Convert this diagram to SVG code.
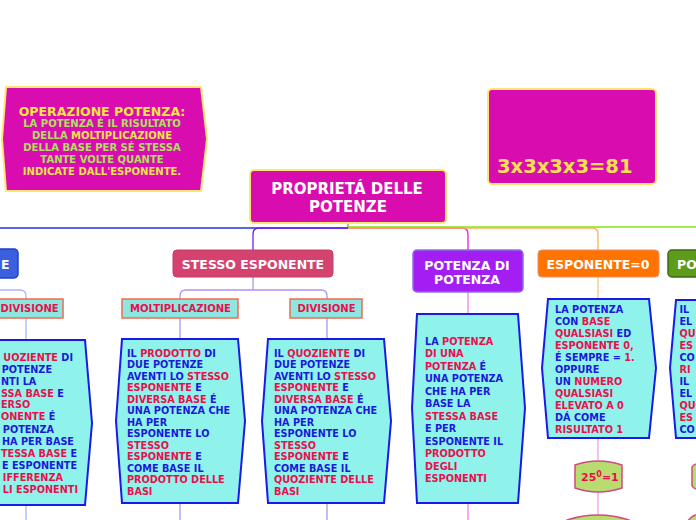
<svg xmlns="http://www.w3.org/2000/svg" width="696" height="520" viewBox="0 0 696 520">
<style>
text{font-family:"DejaVu Sans","Verdana",sans-serif;font-weight:bold}
.w{fill:#ffffff;font-size:12.5px;text-anchor:middle}
.t{font-size:9.7px}
.b{fill:#1a1ad8}
.r{fill:#e8104c}
.box{fill:#8ff3ec;stroke:#1a1ae8;stroke-width:2}
.sub{fill:#8ee6e0;stroke:#f06a50;stroke-width:1.5}
.subt{fill:#e8104c;font-size:10px;text-anchor:middle}
.mag{fill:#d90cb0;stroke:#ffe670;stroke-width:2}
.num{fill:#b8dc70;stroke:#d04a80;stroke-width:1.5}
.c{fill:none;stroke-width:1.3}
</style>
<g id="connectors">
<path class="c" d="M348,227 H696" stroke="#88e018"/>
<path class="c" d="M348,223 V227" stroke="#88a020"/>
<path class="c" d="M348,228 H0" stroke="#2030f0"/>
<path class="c" d="M348,228 H259 Q253,228 253,234 V250" stroke="#7020f0"/>
<path class="c" d="M348,228 H462 Q468,228 468,234 V250" stroke="#e020e0"/>
<path class="c" d="M348,228 H592 Q598,228 598,234 V250" stroke="#ffb050"/>
<path class="c" d="M253,277 V290 M186,290 H321 M186,290 Q180,290 180,296 V299 M321,290 Q327,290 327,296 V299" stroke="#b094f0"/>
<path class="c" d="M180,318 V339 M180,503 V520 M327,318 V339 M327,503 V520" stroke="#b094f0"/>
<path class="c" d="M0,290 H20 Q26,290 26,296 V299 M26,318 V340 M26,505 V520" stroke="#a8b8f8"/>
<path class="c" d="M468,292 V314 M468,503 V520" stroke="#f080f0"/>
<path class="c" d="M598,277 V299" stroke="#ffc080"/>
<path class="c" d="M598,438 V460 M598,492 V514" stroke="#f0a0f0"/>
</g>
<g id="node-operazione">
<path class="mag" d="M6,87 L201,87 L207,139 L201,191 L6,191 L2,139 Z"/>
<text x="102" y="115.5" font-size="12.5" fill="#f5e642" text-anchor="middle">OPERAZIONE POTENZA:</text>
<text x="102" y="127" font-size="10" fill="#b0e060" text-anchor="middle">LA POTENZA É IL RISULTATO</text>
<text x="102" y="138.5" font-size="10" fill="#b0e060" text-anchor="middle">DELLA <tspan fill="#ece44c">MOLTIPLICAZIONE</tspan></text>
<text x="102" y="150.5" font-size="10" fill="#b0e060" text-anchor="middle">DELLA BASE PER SÉ STESSA</text>
<text x="102" y="162.5" font-size="10" fill="#b0e060" text-anchor="middle">TANTE VOLTE QUANTE</text>
<text x="102" y="174.5" font-size="10" fill="#ece44c" text-anchor="middle">INDICATE DALL'ESPONENTE.</text>
</g>
<g id="node-esempio">
<rect class="mag" x="488" y="89" width="168" height="95" rx="4"/>
<text x="497" y="173" font-size="19.5" fill="#f5e050">3x3x3x3=81</text>
</g>
<g id="node-root">
<rect class="mag" x="250" y="170" width="196" height="53" rx="4"/>
<text x="347" y="193.5" font-size="15" fill="#ffffff" text-anchor="middle">PROPRIETÁ DELLE</text>
<text x="348" y="211.5" font-size="15" fill="#ffffff" text-anchor="middle">POTENZE</text>
</g>
<g id="node-stessa-base">
<rect x="-20" y="249" width="38" height="29" rx="4" fill="#3a60e0" stroke="#2040c8" stroke-width="1.5"/>
<text x="1" y="268.5" class="w" style="text-anchor:start">E</text>
</g>
<g id="node-stesso-esponente">
<rect x="173" y="250" width="160" height="27" rx="4" fill="#d4436f" stroke="#c83a66" stroke-width="1"/>
<text x="253" y="268.5" class="w">STESSO ESPONENTE</text>
</g>
<g id="node-potenza-di-potenza">
<rect x="413" y="250" width="110" height="42" rx="4" fill="#a31ef2" stroke="#8d6ee8" stroke-width="1.5"/>
<text x="467" y="269.5" class="w">POTENZA DI</text>
<text x="467" y="283.5" class="w">POTENZA</text>
</g>
<g id="node-esponente-0">
<rect x="538" y="250" width="121" height="27" rx="4" fill="#ff7300" stroke="#e89060" stroke-width="1"/>
<text x="598" y="268.5" class="w">ESPONENTE=0</text>
</g>
<g id="node-po">
<rect x="668" y="250" width="60" height="27" rx="4" fill="#5c9c1a" stroke="#3c6a10" stroke-width="1.5"/>
<text x="677" y="268.5" class="w" style="text-anchor:start">PO</text>
</g>
<g id="node-divisione-sx">
<rect class="sub" x="-15" y="299" width="78" height="19"/>
<text x="0.5" y="311.5" class="subt" style="text-anchor:start">DIVISIONE</text>
</g>
<g id="node-moltiplicazione">
<rect class="sub" x="122" y="299" width="116" height="19"/>
<text x="180.5" y="311.5" class="subt">MOLTIPLICAZIONE</text>
</g>
<g id="node-divisione">
<rect class="sub" x="290" y="299" width="72" height="19"/>
<text x="326.5" y="311.5" class="subt">DIVISIONE</text>
</g>
<g id="node-testo-sx">
<path class="box" d="M-10,340 L85,340 L92,423 L85,505 L-10,505 Z"/>
<g class="t" text-anchor="end">
<text x="73" y="360.5"><tspan class="r">UOZIENTE</tspan><tspan class="b"> DI</tspan></text>
<text x="52" y="372.5" class="b">POTENZE</text>
<text x="1" y="384.5" class="b" text-anchor="start">NTI LA</text>
<text x="1" y="396.5" text-anchor="start"><tspan class="r">SSA BASE</tspan><tspan class="b"> E</tspan></text>
<text x="1" y="408" class="r" text-anchor="start">ERSO</text>
<text x="1" y="420" class="b" text-anchor="start"><tspan class="r">ONENTE</tspan> É</text>
<text x="54" y="432.5" class="b">POTENZA</text>
<text x="74" y="444.5" class="b">HA PER BASE</text>
<text x="1" y="456.5" text-anchor="start"><tspan class="r">TESSA BASE</tspan><tspan class="b"> E</tspan></text>
<text x="77" y="468.5" class="b">E ESPONENTE</text>
<text x="63" y="480.5" class="r">IFFERENZA</text>
<text x="78" y="492.5" class="r">LI ESPONENTI</text>
</g>
</g>
<g id="node-testo-moltiplicazione">
<path class="box" d="M122,339 L238,339 L245,421 L238,503 L122,503 L116,421 Z"/>
<g class="t">
<text x="127" y="356.5" class="b">IL <tspan class="r">PRODOTTO</tspan> DI</text>
<text x="127" y="368" class="b">DUE POTENZE</text>
<text x="127" y="379.5" class="b">AVENTI LO <tspan class="r">STESSO</tspan></text>
<text x="127" y="391" class="r">ESPONENTE<tspan class="b"> E</tspan></text>
<text x="127" y="402.5" class="r">DIVERSA BASE<tspan class="b"> É</tspan></text>
<text x="127" y="414" class="b">UNA POTENZA CHE</text>
<text x="127" y="425.5" class="b">HA PER</text>
<text x="127" y="437" class="b">ESPONENTE LO</text>
<text x="127" y="448.5" class="r">STESSO</text>
<text x="127" y="460" class="r">ESPONENTE<tspan class="b"> E</tspan></text>
<text x="127" y="471.5" class="b">COME BASE IL</text>
<text x="127" y="483" class="r">PRODOTTO DELLE</text>
<text x="127" y="494.5" class="r">BASI</text>
</g>
</g>
<g id="node-testo-divisione">
<path class="box" d="M268,339 L384,339 L391,421 L384,503 L268,503 L262,421 Z"/>
<g class="t">
<text x="274" y="356.5" class="b">IL <tspan class="r">QUOZIENTE</tspan> DI</text>
<text x="274" y="368" class="b">DUE POTENZE</text>
<text x="274" y="379.5" class="b">AVENTI LO <tspan class="r">STESSO</tspan></text>
<text x="274" y="391" class="r">ESPONENTE<tspan class="b"> E</tspan></text>
<text x="274" y="402.5" class="r">DIVERSA BASE<tspan class="b"> É</tspan></text>
<text x="274" y="414" class="b">UNA POTENZA CHE</text>
<text x="274" y="425.5" class="b">HA PER</text>
<text x="274" y="437" class="b">ESPONENTE LO</text>
<text x="274" y="448.5" class="r">STESSO</text>
<text x="274" y="460" class="r">ESPONENTE<tspan class="b"> E</tspan></text>
<text x="274" y="471.5" class="b">COME BASE IL</text>
<text x="274" y="483" class="r">QUOZIENTE DELLE</text>
<text x="274" y="494.5" class="r">BASI</text>
</g>
</g>
<g id="node-testo-potenza">
<path class="box" d="M417,314 L518,314 L525,408 L518,503 L417,503 L412,408 Z"/>
<g class="t">
<text x="425" y="344.5" class="b">LA <tspan class="r">POTENZA</tspan></text>
<text x="425" y="357" class="r">DI UNA</text>
<text x="425" y="369.5" class="r">POTENZA<tspan class="b"> É</tspan></text>
<text x="425" y="382" class="b">UNA POTENZA</text>
<text x="425" y="394.5" class="b">CHE HA PER</text>
<text x="425" y="407" class="b">BASE LA</text>
<text x="425" y="419.5" class="r">STESSA BASE</text>
<text x="425" y="432" class="b">E PER</text>
<text x="425" y="444.5" class="b">ESPONENTE IL</text>
<text x="425" y="457" class="r">PRODOTTO</text>
<text x="425" y="469.5" class="r">DEGLI</text>
<text x="425" y="482" class="r">ESPONENTI</text>
</g>
</g>
<g id="node-testo-esponente-0">
<path class="box" d="M548,299 L649,299 L656,368 L649,438 L548,438 L542,368 Z"/>
<g class="t">
<text x="555" y="312.5" class="b">LA POTENZA</text>
<text x="555" y="324.5" class="b">CON  <tspan class="r">BASE</tspan></text>
<text x="555" y="336.5" class="r">QUALSIASI<tspan class="b"> ED</tspan></text>
<text x="555" y="348.5" class="r">ESPONENTE 0,</text>
<text x="555" y="360.5" class="b">É SEMPRE = <tspan class="r">1.</tspan></text>
<text x="555" y="372.5" class="b">OPPURE</text>
<text x="555" y="384.5" class="b">UN <tspan class="r">NUMERO</tspan></text>
<text x="555" y="396.5" class="r">QUALSIASI</text>
<text x="555" y="408.5" class="r">ELEVATO A 0</text>
<text x="555" y="420.5" class="b">DÁ COME</text>
<text x="555" y="432.5" class="r">RISULTATO 1</text>
</g>
</g>
<g id="node-testo-dx">
<path class="box" d="M676,300 L720,300 L720,438 L676,438 L670,368 Z"/>
<g class="t">
<text x="679.5" y="312.5" class="b">IL</text>
<text x="679.5" y="324.5" class="b">EL</text>
<text x="679.5" y="336.5" class="r">QU</text>
<text x="679.5" y="348.5" class="r">ES</text>
<text x="679.5" y="360.5" class="b">CO</text>
<text x="679.5" y="372.5" class="r">RI</text>
<text x="679.5" y="384.5" class="b">IL</text>
<text x="679.5" y="396.5" class="b">EL</text>
<text x="679.5" y="408.5" class="r">QU</text>
<text x="679.5" y="420.5" class="r">ES</text>
<text x="679.5" y="432.5" class="b">CO</text>
</g>
</g>
<g id="node-esempio-0">
<path class="num" d="M575,465 Q598,457 622,465 L622,488 Q598,496 575,488 Z"/>
<text x="581" y="481" font-size="11" class="r">25<tspan font-size="8" dy="-4">0</tspan><tspan dy="4">=1</tspan></text>
</g>
<g id="node-esempio-0b">
<path class="num" d="M567,520 Q598,510 629,520 L629,530 L567,530 Z"/>
</g>
<g id="node-esempio-dx">
<path class="num" d="M692,467 Q694,463 705,463 L705,490 Q694,490 692,486 Z"/>
<path class="num" d="M688,521 Q692,514 705,513 L705,530 L688,530 Z"/>
</g>
</svg>
